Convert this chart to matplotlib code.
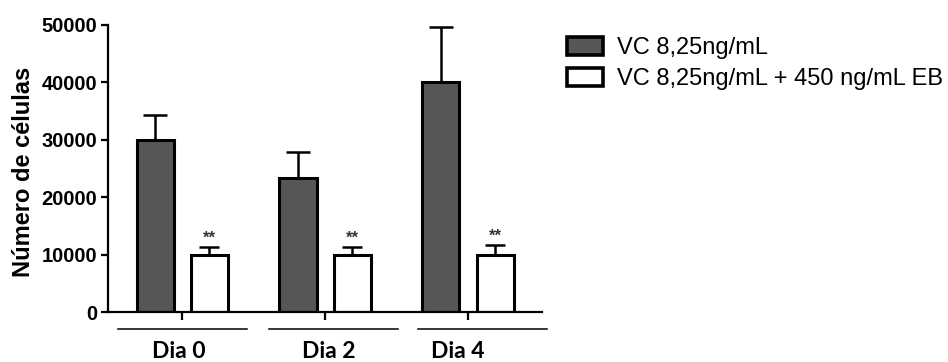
import matplotlib.pyplot as plt
import numpy as np
from matplotlib.patches import Patch

# data
days = ['Dia 0', 'Dia 2', 'Dia 4']
vc_mean = [30000, 23300, 40000]
vc_err = [4400, 4500, 9600]
vc_eb_mean = [10000, 10000, 10000]
vc_eb_err = [1300, 1300, 1600]
signif = ['**', '**', '**']
series_names = ['VC 8,25ng/mL', 'VC 8,25ng/mL + 450 ng/mL EB']

plt.rcParams['font.family'] = ['Liberation Sans', 'DejaVu Sans']

fig = plt.figure(figsize=(9.48, 3.62), dpi=100)
ax = fig.add_axes([0.114, 0.138, 0.458, 0.793])

x = np.arange(len(days))
w = 0.26
off = 0.19
dark = '#565656'

ax.bar(x - off, vc_mean, w, color=dark, edgecolor='black', linewidth=2.2, zorder=2)
ax.bar(x + off, vc_eb_mean, w, color='white', edgecolor='black', linewidth=2.2, zorder=2)

# only the upper half of the error bars is drawn
ax.errorbar(x - off, vc_mean, yerr=[np.zeros(3), vc_err], fmt='none', ecolor='black',
            elinewidth=1.8, capsize=8.5, capthick=1.8, zorder=1)
ax.errorbar(x + off, vc_eb_mean, yerr=[np.zeros(3), vc_eb_err], fmt='none', ecolor='black',
            elinewidth=1.8, capsize=7.5, capthick=1.8, zorder=1)

for xi, m, e, s in zip(x, vc_eb_mean, vc_eb_err, signif):
    ax.text(xi + off, m + e + 300, s, ha='center', va='bottom', fontsize=12,
            color='#333344', fontweight='bold')

ax.set_ylim(0, 50000)
ax.set_xlim(-0.52, 2.52)
ax.set_yticks([0, 10000, 20000, 30000, 40000, 50000])
ax.set_yticklabels(['0', '10000', '20000', '30000', '40000', '50000'],
                   fontweight='bold', fontsize=14.5)
ax.set_ylabel('Número de células', fontweight='bold', fontsize=17)
ax.yaxis.set_label_coords(-0.168, 0.49)

ax.set_xticks(x)
ax.set_xticklabels([])
ax.tick_params(axis='x', direction='out', length=6, width=1.6)
ax.tick_params(axis='y', direction='out', length=5, width=1.6, pad=3)

for sp in ['top', 'right']:
    ax.spines[sp].set_visible(False)
ax.spines['left'].set_linewidth(1.6)
ax.spines['bottom'].set_linewidth(1.6)

# group lines and labels below the axis (small shifts as in the original)
line_shift = [0.0, 0.06, 0.10]
label_shift = [-0.025, 0.025, -0.07]
trans = ax.get_xaxis_transform()
for xi, d, ls, ts in zip(x, days, line_shift, label_shift):
    ax.plot([xi + ls - 0.453, xi + ls + 0.453], [-0.059, -0.059], color='black', lw=1.1,
            transform=trans, clip_on=False)
    ax.text(xi + ts, -0.139, d, ha='center', va='center', transform=trans,
            fontsize=16.5, fontweight='bold', family=['Lato', 'DejaVu Sans'])

handles = [Patch(facecolor=dark, edgecolor='black', linewidth=2.6),
           Patch(facecolor='white', edgecolor='black', linewidth=2.6)]
fig.legend(handles, series_names, loc='upper left', bbox_to_anchor=(0.598, 0.898),
           frameon=False, fontsize=17, handlelength=1.52, handleheight=0.8,
           handletextpad=0.62, labelspacing=0.38, borderaxespad=0, borderpad=0)

fig.savefig('out.png', dpi=100)
